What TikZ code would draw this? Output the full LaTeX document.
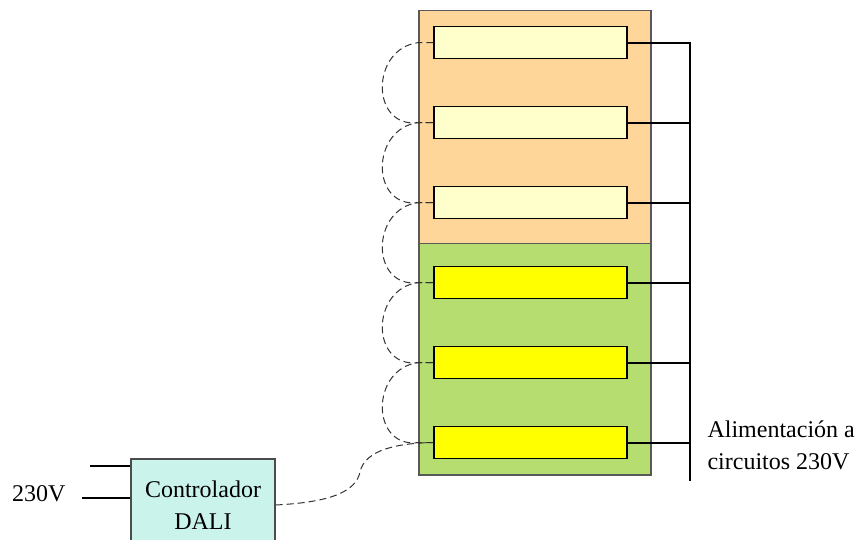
\documentclass[tikz,border=0pt]{standalone}
\usepackage{fontspec}
\setmainfont{Liberation Serif}
\begin{document}
\begin{tikzpicture}[x=1pt,y=-1pt,
  lamp/.style={draw=black,line width=1.2pt,minimum width=193pt,minimum height=32pt,inner sep=0pt,anchor=north west},
  lampA/.style={lamp,fill=lightyel},
  lampB/.style={lamp,fill=pureyel},
  wire/.style={line width=2pt,black},
  dali/.style={dash pattern=on 7pt off 4pt,line width=1pt,black!80},
  lbl/.style={font=\fontsize{24}{32}\selectfont}]
\definecolor{lightyel}{HTML}{FFFFCC}
\definecolor{pureyel}{HTML}{FFFF00}
\definecolor{peach}{HTML}{FFD699}
\definecolor{leaf}{HTML}{B5DD70}
\definecolor{aqua}{HTML}{CAF3EC}
\useasboundingbox (0,0) rectangle (857,540);
\clip (0,0) rectangle (857,540);
% zones
\node[draw=black!65,line width=1.4pt,fill=peach,minimum width=232pt,minimum height=232.7pt,inner sep=0pt,anchor=north west] (zoneA) at (418.3,10) {};
\node[draw=black!65,line width=1.4pt,fill=leaf,minimum width=232pt,minimum height=231.6pt,inner sep=0pt,anchor=north west] (zoneB) at (418.3,242.7) {};
% lamps
\node[lampA] (b1) at (433.3,26) {};
\node[lampA] (b2) at (433.3,106) {};
\node[lampA] (b3) at (433.3,186) {};
\node[lampB] (b4) at (433.3,266) {};
\node[lampB] (b5) at (433.3,346) {};
\node[lampB] (b6) at (433.3,426) {};
% supply bus
\coordinate (busT) at (690,42);
\coordinate (busB) at (690,481);
\draw[wire] (busT) -- (busB);
\foreach \i in {1,...,6} {\draw[wire] (b\i.east) -- (busT |- b\i.east);}
\node[lbl,align=left,anchor=west] (supply) at (704,445) {Alimentación a\\circuitos 230V};
% DALI loops
\foreach \i/\j in {1/2,2/3,3/4,4/5,5/6} {
  \draw[dali] (b\i.west) -- ++(-15,0) .. controls ++(-48,6) and ([xshift=-63pt,yshift=-6pt]b\j.west) .. ([xshift=-15pt]b\j.west) -- (b\j.west);
}
% controller
\node[draw=black!70,line width=1.4pt,fill=aqua,minimum width=144pt,minimum height=92pt,inner sep=0pt,anchor=north west,lbl,align=center] (ctrl) at (130.3,458.3) {Controlador\\DALI};
\coordinate (inA) at (90,465.7);
\coordinate (inB) at (82,497.7);
\draw[wire] (inA) -- (inA -| ctrl.west);
\draw[wire] (inB) -- (inB -| ctrl.west);
\node[lbl,anchor=west,inner sep=0pt] (v230) at (12,494) {230V};
\draw[dali] (ctrl.east) .. controls (335,502) and (356,490) .. (360,472) .. controls (365,449) and (400,443) .. (b6.west);
\end{tikzpicture}
\end{document}
